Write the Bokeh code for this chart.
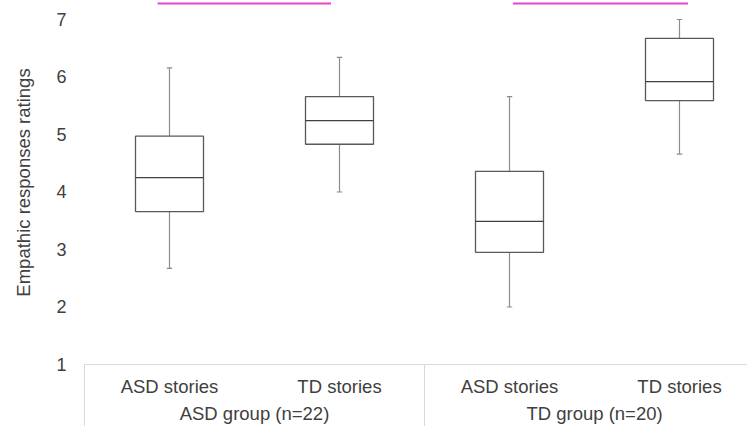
from bokeh.plotting import figure
from bokeh.models import Range1d, FixedTicker, LinearAxis
from bokeh.embed import file_html
from bokeh.resources import INLINE

# ---- data ----
categories = ["ASD stories", "TD stories", "ASD stories", "TD stories"]
groups = ["ASD group (n=22)", "TD group (n=20)"]
positions = [0.5, 1.5, 2.5, 3.5]
group_positions = [1.0, 3.0]
whisker_low = [2.67, 4.00, 2.00, 4.66]
q1 = [3.66, 4.83, 2.95, 5.59]
median = [4.25, 5.24, 3.49, 5.92]
q3 = [4.97, 5.66, 4.36, 6.67]
whisker_high = [6.16, 6.34, 5.66, 7.00]
y_ticks = [1, 2, 3, 4, 5, 6, 7]
sig_x0 = [0.43, 2.52]
sig_x1 = [1.45, 3.55]
sig_y = [7.278, 7.278]

FONT = "Liberation Sans"
TXT = "#404040"
GRID = "#d9d9d9"
SEP = 62

p = figure(width=747, height=426, output_backend="svg", toolbar_location=None,
           x_range=Range1d(0, 3.9), y_range=Range1d(1, 7.330),
           x_axis_type=None, y_axis_type=None,
           min_border_left=84, min_border_right=0, min_border_top=0,
           min_border_bottom=SEP)
p.outline_line_color = None
p.background_fill_color = "white"
p.border_fill_color = "white"

# y axis
yax = LinearAxis(ticker=FixedTicker(ticks=y_ticks))
yax.axis_label = "Empathic responses ratings"
yax.axis_label_text_font = FONT
yax.axis_label_text_font_size = "18.5px"
yax.axis_label_text_font_style = "normal"
yax.axis_label_text_color = TXT
yax.axis_label_standoff = 19
yax.major_label_text_font = FONT
yax.major_label_text_font_size = "18px"
yax.major_label_text_color = TXT
yax.major_label_standoff = 18
yax.axis_line_color = None
yax.major_tick_line_color = None
yax.minor_tick_line_color = None
yax.major_tick_out = 0
yax.major_tick_in = 0
p.add_layout(yax, "left")

# x axis: categories (minor ticks draw the group separators)
xax1 = LinearAxis(ticker=FixedTicker(ticks=positions, minor_ticks=[0, 2, 4]))
xax1.major_label_overrides = {pos: lab for pos, lab in zip(positions, categories)}
xax1.major_label_text_font = FONT
xax1.major_label_text_font_size = "18.5px"
xax1.major_label_text_color = TXT
xax1.major_label_standoff = 11 - SEP
xax1.axis_line_color = GRID
xax1.major_tick_line_color = None
xax1.major_tick_out = 0
xax1.major_tick_in = 0
xax1.minor_tick_line_color = GRID
xax1.minor_tick_out = SEP
xax1.minor_tick_in = 0
p.add_layout(xax1, "below")

# x axis: groups
xax2 = LinearAxis(ticker=FixedTicker(ticks=group_positions, minor_ticks=[]))
xax2.major_label_overrides = {pos: lab for pos, lab in zip(group_positions, groups)}
xax2.major_label_text_font = FONT
xax2.major_label_text_font_size = "18.5px"
xax2.major_label_text_color = TXT
xax2.major_label_standoff = 3
xax2.axis_line_color = None
xax2.major_tick_line_color = None
xax2.minor_tick_line_color = None
xax2.major_tick_out = 0
xax2.major_tick_in = 0
p.add_layout(xax2, "below")

# grid
p.ygrid.ticker = FixedTicker(ticks=y_ticks)
p.ygrid.grid_line_color = GRID
p.ygrid.grid_line_width = 1
p.xgrid.grid_line_color = None

BOXW = 0.4
CAP = 0.016
WHISK = "#8c8c8c"
EDGE = "#595959"

# whiskers
p.segment(x0=positions, y0=q3, x1=positions, y1=whisker_high, line_color=WHISK, line_width=1.2)
p.segment(x0=positions, y0=q1, x1=positions, y1=whisker_low, line_color=WHISK, line_width=1.2)
p.segment(x0=[x - CAP for x in positions], y0=whisker_high, x1=[x + CAP for x in positions], y1=whisker_high,
          line_color=WHISK, line_width=1.2)
p.segment(x0=[x - CAP for x in positions], y0=whisker_low, x1=[x + CAP for x in positions], y1=whisker_low,
          line_color=WHISK, line_width=1.2)

# boxes
p.vbar(x=positions, width=BOXW, bottom=q1, top=q3, fill_color="white",
       line_color=EDGE, line_width=1.3)
p.segment(x0=[x - BOXW / 2 for x in positions], y0=median, x1=[x + BOXW / 2 for x in positions], y1=median,
          line_color="#404040", line_width=1.3)

# significance bars
p.segment(x0=sig_x0, y0=sig_y, x1=sig_x1, y1=sig_y, line_color="#e544cf", line_width=2)

open("out.html", "w").write(file_html(p, INLINE))
